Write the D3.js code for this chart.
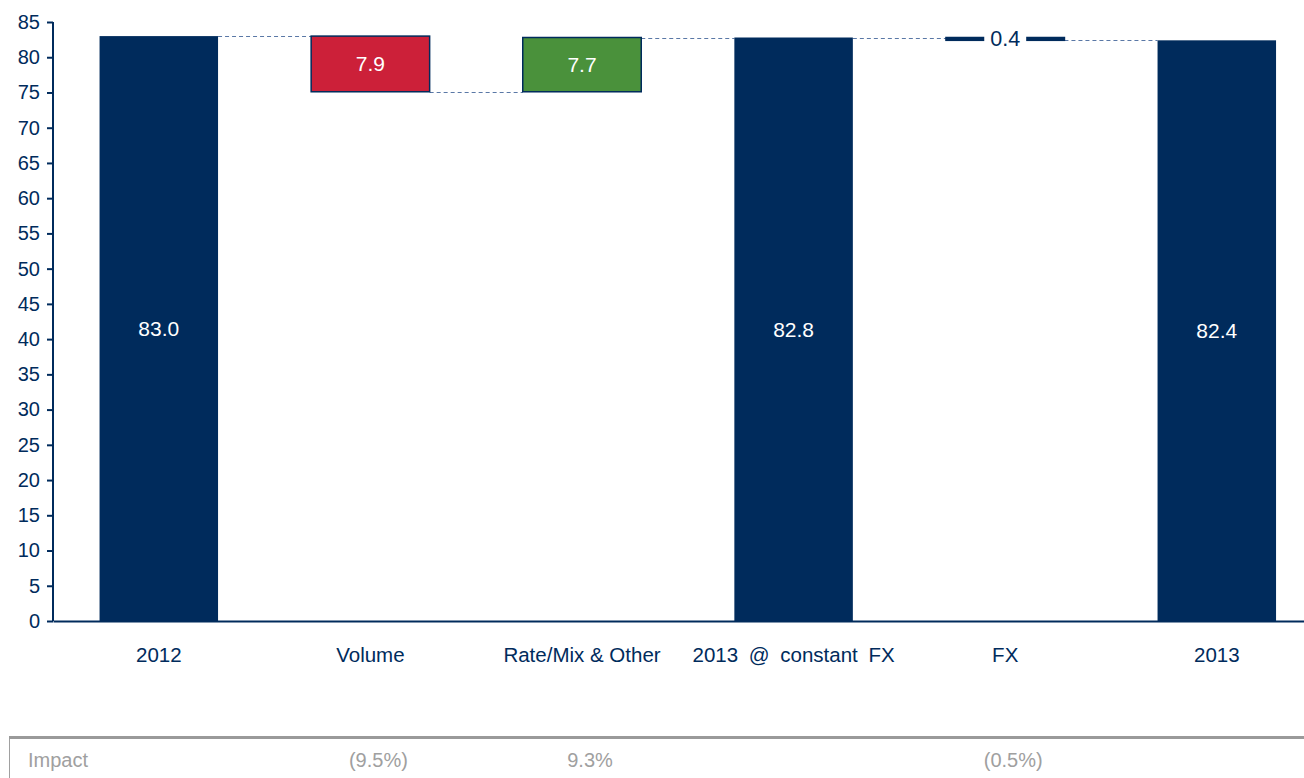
<!DOCTYPE html>
<html>
<head>
<meta charset="utf-8">
<script src="https://cdn.jsdelivr.net/npm/d3@7"></script>
<style>
  html, body { margin: 0; padding: 0; background: #fff; }
  svg { display: block; font-family: "Liberation Sans", Arial, sans-serif; }
</style>
</head>
<body>
<svg id="chart" width="1304" height="778"></svg>
<script>
// ---- data ----
const categories = ["2012", "Volume", "Rate/Mix & Other", "2013 @ constant FX", "FX", "2013"];
const changes    = [83.0, -7.9, 7.7, 82.8, -0.4, 82.4];
const kinds      = ["total", "delta", "delta", "total", "delta", "total"];
const barColors  = ["#002b5c", "#cc2039", "#4a913b", "#002b5c", "#002b5c", "#002b5c"];
const barLabels  = ["83.0", "7.9", "7.7", "82.8", "0.4", "82.4"];
const impactLabels = ["", "(9.5%)", "9.3%", "", "(0.5%)", ""];
const yTicks = d3.range(0, 86, 5);

// ---- build waterfall segments ----
let running = 0;
const segs = categories.map((c, i) => {
  let start, end;
  if (kinds[i] === "total") { start = 0; end = changes[i]; running = end; }
  else { start = running; end = running + changes[i]; running = end; }
  return { cat: c, start, end, color: barColors[i], label: barLabels[i], kind: kinds[i], i };
});

const navy = "#002b5c";
const svg = d3.select("#chart");

const step = 211.6;
const x = d3.scaleBand().domain(categories)
  .range([53, 53 + step * categories.length])
  .paddingInner(0.44).paddingOuter(0.22);
const y = d3.scaleLinear().domain([0, 85]).range([621, 22]);

// connectors
const conn = svg.append("g");
for (let i = 0; i < segs.length - 1; i++) {
  const lvl = segs[i].end;
  conn.append("line")
    .attr("x1", x(segs[i].cat) + x.bandwidth())
    .attr("x2", x(segs[i + 1].cat))
    .attr("y1", Math.round(y(lvl)) + 0.5).attr("y2", Math.round(y(lvl)) + 0.5)
    .attr("stroke", "#5a78a6").attr("stroke-width", 1)
    .attr("stroke-dasharray", "4,3");
}

// bars
const bars = svg.append("g");
segs.forEach(s => {
  const top = y(Math.max(s.start, s.end));
  const bot = y(Math.min(s.start, s.end));
  const thin = (bot - top) < 10;
  bars.append("rect")
    .attr("x", x(s.cat)).attr("width", x.bandwidth())
    .attr("y", top).attr("height", Math.max(bot - top, 0))
    .attr("fill", s.color)
    .attr("stroke", (s.kind === "delta") ? navy : "none")
    .attr("stroke-width", s.kind === "delta" ? 1.5 : 0);
});

// bar labels
segs.forEach(s => {
  const cx = x(s.cat) + x.bandwidth() / 2;
  const cy = (y(s.start) + y(s.end)) / 2;
  const small = Math.abs(y(s.start) - y(s.end)) < 10;
  if (small) {
    const t = svg.append("text").attr("x", cx).attr("y", cy)
      .attr("text-anchor", "middle").attr("dominant-baseline", "central")
      .attr("font-size", 21.5).attr("fill", navy).text(s.label);
    const bb = t.node().getBBox();
    svg.insert("rect", "text").attr("x", bb.x - 6).attr("y", cy - 4)
      .attr("width", bb.width + 12).attr("height", 8).attr("fill", "#fff");
  } else {
    svg.append("text").attr("x", cx).attr("y", cy)
      .attr("text-anchor", "middle").attr("dominant-baseline", "central")
      .attr("font-size", 21).attr("fill", "#fff").text(s.label);
  }
});

// y axis
const yAxis = svg.append("g").attr("transform", "translate(53,0)")
  .call(d3.axisLeft(y).tickValues(yTicks).tickSize(6).tickPadding(7).tickFormat(d3.format("d")));
yAxis.select(".domain").attr("stroke", navy).attr("stroke-width", 2).attr("d", "M0,621V22");
yAxis.selectAll(".tick line").attr("stroke", navy).attr("stroke-width", 2);
yAxis.selectAll(".tick text").attr("fill", navy).attr("font-size", 20)
  .attr("font-family", "Liberation Sans, Arial, sans-serif");

// x axis
const xAxis = svg.append("g").attr("transform", "translate(0,621)")
  .call(d3.axisBottom(x).tickSize(0).tickPadding(26));
xAxis.select(".domain").attr("stroke", navy).attr("stroke-width", 2);
xAxis.selectAll(".tick text").attr("fill", navy).attr("font-size", 20.5)
  .attr("font-family", "Liberation Sans, Arial, sans-serif")
  .attr("word-spacing", d => d.includes("@") ? 5 : 0);

// impact table
svg.append("rect").attr("x", 9.5).attr("y", 737.5).attr("width", 1320).attr("height", 60)
  .attr("fill", "none").attr("stroke", "#a0a0a0").attr("stroke-width", 1);
svg.append("line").attr("x1", 9).attr("x2", 1304).attr("y1", 737.5).attr("y2", 737.5)
  .attr("stroke", "#9a9a9a").attr("stroke-width", 3);
svg.append("text").attr("x", 28).attr("y", 760).attr("dominant-baseline", "central")
  .attr("font-size", 20).attr("fill", "#a0a0a0").text("Impact");
impactLabels.forEach((t, i) => {
  if (!t) return;
  svg.append("text")
    .attr("x", x(categories[i]) + x.bandwidth() / 2 + 8).attr("y", 760)
    .attr("text-anchor", "middle").attr("dominant-baseline", "central")
    .attr("font-size", 20).attr("fill", "#a0a0a0").text(t);
});
</script>
</body>
</html>
